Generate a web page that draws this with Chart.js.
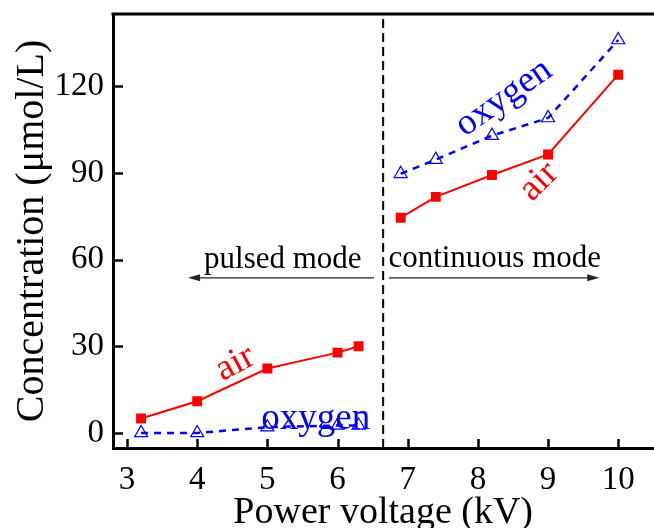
<!DOCTYPE html>
<html>
<head>
<meta charset="utf-8">
<script src="https://cdn.jsdelivr.net/npm/chart.js@4/dist/chart.umd.min.js"></script>
<style>
  html, body { margin: 0; padding: 0; background: #fff; }
  #wrap { width: 654px; height: 528px; overflow: hidden; }
  canvas { display: block; }
</style>
</head>
<body>
<div id="wrap"><canvas id="chart" width="662" height="528"></canvas></div>
<script>
// voltages (kV) for the two operating modes
const voltPulsed = [3.2, 4, 5, 6, 6.3];
const voltCont = [6.9, 7.4, 8.2, 9, 10];

// concentration (umol/L)
const airPulsed = [5, 11, 22.3, 27.8, 30];
const airCont = [74.5, 81.7, 89.3, 96.4, 124];
const oxyPulsed = [0, 0, 2, 2.6, 2.6];
const oxyCont = [89.7, 94.6, 102.9, 109, 136];

const xTicks = [3, 4, 5, 6, 7, 8, 9, 10];
const yTicks = [0, 30, 60, 90, 120];
const modeBoundary = 6.65;

const serif = '"Liberation Serif", "Times New Roman", serif';
const RED = '#ff0000';
const BLUE = '#0000ff';

const pts = (xs, ys) => xs.map((v, i) => ({ x: v, y: ys[i] }));

const airStyle = {
  borderColor: RED, backgroundColor: RED, borderWidth: 2,
  pointStyle: 'rect', pointRadius: 7, pointBackgroundColor: RED, pointBorderWidth: 0
};
const oxyStyle = {
  borderColor: BLUE, borderWidth: 2.5, borderDash: [7, 6],
  pointStyle: 'triangle', pointRadius: 7.5, pointBorderColor: BLUE,
  pointBackgroundColor: 'rgba(0,0,0,0)', pointBorderWidth: 1.2
};

function arrow(ctx, x1, y1, x2, y2) {
  const dir = Math.sign(x2 - x1);
  ctx.beginPath();
  ctx.moveTo(x1, y1);
  ctx.lineTo(x2 - dir * 8, y2);
  ctx.stroke();
  ctx.beginPath();
  ctx.moveTo(x2, y2);
  ctx.lineTo(x2 - dir * 12, y2 - 3.5);
  ctx.lineTo(x2 - dir * 12, y2 + 3.5);
  ctx.closePath();
  ctx.fill();
}

function label(ctx, text, px, py, deg, color, size) {
  ctx.save();
  ctx.translate(px, py);
  ctx.rotate(deg * Math.PI / 180);
  ctx.fillStyle = color;
  ctx.font = size + 'px ' + serif;
  ctx.textAlign = 'center';
  ctx.textBaseline = 'middle';
  ctx.fillText(text, 0, 0);
  ctx.restore();
}

const overlay = {
  id: 'overlay',
  afterDatasetsDraw(chart) {
    const { ctx, chartArea: a, scales: { x, y } } = chart;
    ctx.save();

    // top frame line
    ctx.strokeStyle = '#000';
    ctx.lineWidth = 3;
    ctx.beginPath();
    ctx.moveTo(a.left - 1.5, a.top);
    ctx.lineTo(a.right + 2, a.top);
    ctx.stroke();

    // inward tick marks
    ctx.lineWidth = 2.5;
    xTicks.forEach(v => {
      const px = Math.round(x.getPixelForValue(v)) + 0.5;
      ctx.beginPath();
      ctx.moveTo(px, a.bottom);
      ctx.lineTo(px, a.bottom - 9);
      ctx.stroke();
    });
    yTicks.forEach(v => {
      const py = Math.round(y.getPixelForValue(v)) + 0.5;
      ctx.beginPath();
      ctx.moveTo(a.left, py);
      ctx.lineTo(a.left + 10, py);
      ctx.stroke();
    });

    // mode boundary
    const bx = x.getPixelForValue(modeBoundary);
    ctx.lineWidth = 2;
    ctx.setLineDash([9, 5]);
    ctx.beginPath();
    ctx.moveTo(bx, a.top + 5);
    ctx.lineTo(bx, a.bottom);
    ctx.stroke();
    ctx.setLineDash([]);

    // mode arrows and captions
    ctx.strokeStyle = '#222';
    ctx.fillStyle = '#222';
    ctx.lineWidth = 1.2;
    const ay = y.getPixelForValue(53.7);
    arrow(ctx, x.getPixelForValue(6.52), ay, x.getPixelForValue(3.87), ay);
    arrow(ctx, x.getPixelForValue(6.73), ay, x.getPixelForValue(9.73), ay);

    ctx.fillStyle = '#000';
    ctx.font = '31px ' + serif;
    ctx.textAlign = 'center';
    ctx.textBaseline = 'alphabetic';
    ctx.fillText('pulsed mode', x.getPixelForValue(5.22), y.getPixelForValue(57.1));
    ctx.fillText('continuous mode', x.getPixelForValue(8.24), y.getPixelForValue(57.4));

    // series labels
    label(ctx, 'air', x.getPixelForValue(8.87), y.getPixelForValue(87), -45, RED, 37);
    label(ctx, 'oxygen', x.getPixelForValue(8.37), y.getPixelForValue(116), -35, BLUE, 37);
    label(ctx, 'air', x.getPixelForValue(4.54), y.getPixelForValue(24), -28, RED, 37);
    ctx.fillStyle = BLUE;
    ctx.font = '37px ' + serif;
    ctx.textBaseline = 'alphabetic';
    ctx.fillText('oxygen', x.getPixelForValue(5.69), y.getPixelForValue(1.4));

    ctx.restore();
  }
};

new Chart(document.getElementById('chart'), {
  type: 'line',
  data: {
    datasets: [
      { label: 'air', data: pts(voltPulsed, airPulsed), ...airStyle },
      { label: 'air', data: pts(voltCont, airCont), ...airStyle },
      { label: 'oxygen', data: pts(voltPulsed, oxyPulsed), ...oxyStyle },
      { label: 'oxygen', data: pts(voltCont, oxyCont), ...oxyStyle }
    ]
  },
  options: {
    responsive: false,
    animation: false,
    layout: { padding: { top: 14, right: 6, left: 0, bottom: 0 } },
    plugins: { legend: { display: false }, tooltip: { enabled: false } },
    elements: { line: { tension: 0 } },
    scales: {
      x: {
        type: 'linear',
        min: 2.8,
        max: 10.5,
        afterBuildTicks: s => { s.ticks = xTicks.map(v => ({ value: v })); },
        afterFit: s => { s.height = 80; s.paddingLeft = 0; s.paddingRight = 0; },
        grid: { display: false, drawTicks: false },
        border: { display: true, color: '#000', width: 3 },
        ticks: {
          color: '#000', padding: 16, maxRotation: 0, autoSkip: false,
          font: { family: serif, size: 33, lineHeight: 1 }
        },
        title: {
          display: true, text: 'Power voltage (kV)', color: '#000',
          padding: { top: 0, bottom: -4 },
          font: { family: serif, size: 38, lineHeight: 1 }
        }
      },
      y: {
        min: -5.2,
        max: 145,
        afterBuildTicks: s => { s.ticks = yTicks.map(v => ({ value: v })); },
        afterFit: s => { s.width = 113; s.paddingTop = 0; s.paddingBottom = 0; },
        grid: { display: false, drawTicks: false },
        border: { display: true, color: '#000', width: 3 },
        ticks: {
          color: '#000', padding: 9, autoSkip: false,
          font: { family: serif, size: 33, lineHeight: 1 }
        },
        title: {
          display: true, text: 'Concentration (μmol/L)', color: '#000',
          padding: { top: 12, bottom: 0 },
          font: { family: serif, size: 40, lineHeight: 1 }
        }
      }
    }
  },
  plugins: [overlay]
});
</script>
</body>
</html>
